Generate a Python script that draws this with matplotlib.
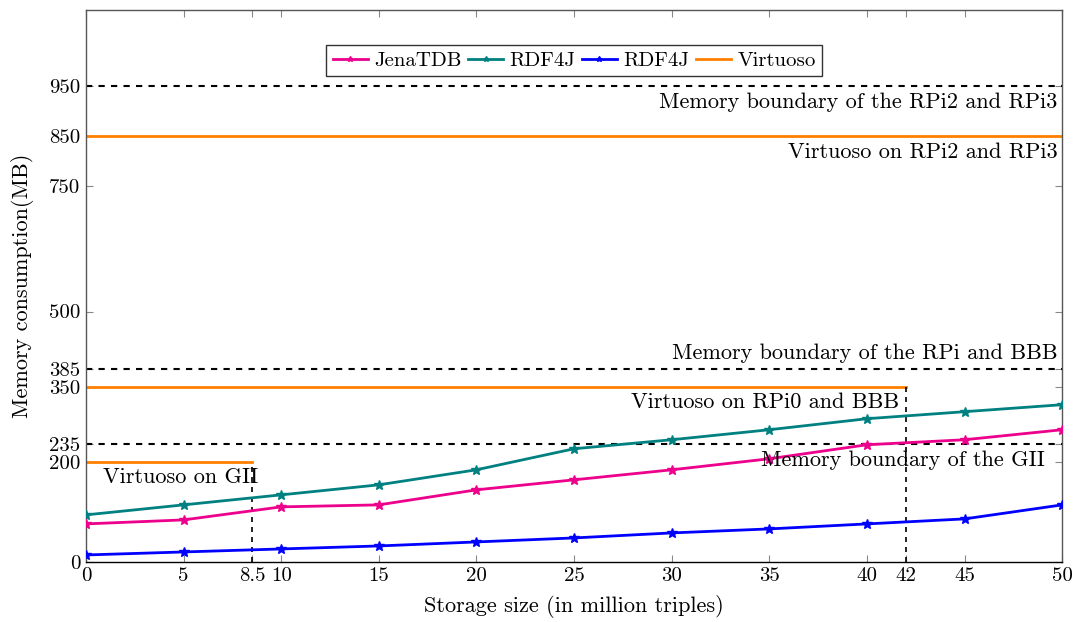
import matplotlib
matplotlib.use("Agg")
import matplotlib.pyplot as plt

plt.rcParams['font.family'] = ['cmr10', 'DejaVu Serif']
plt.rcParams['mathtext.fontset'] = 'cm'
plt.rcParams['axes.formatter.use_mathtext'] = True

x = [0, 5, 10, 15, 20, 25, 30, 35, 40, 45, 50]
jena = [76, 84, 110, 114, 144, 164, 184, 206, 234, 244, 264]
rdf4j_a = [94, 114, 134, 154, 184, 226, 244, 264, 286, 300, 314]
rdf4j_b = [14, 20, 26, 32, 40, 48, 58, 66, 76, 86, 114]

series_labels = ["JenaTDB", "RDF4J", "RDF4J", "Virtuoso"]
series_colors = ["#ec008c", "#008080", "#0000ff", "#ff7f00"]

boundaries = [950, 385, 235]
boundary_labels = ["Memory boundary of the RPi2 and RPi3",
                   "Memory boundary of the RPi and BBB",
                   "Memory boundary of the GII"]
virtuoso_levels = [850, 350, 200]
virtuoso_ends = [50, 42, 8.5]
virtuoso_labels = ["Virtuoso on RPi2 and RPi3", "Virtuoso on RPi0 and BBB", "Virtuoso on GII"]

xticks = [0, 5, 8.5, 10, 15, 20, 25, 30, 35, 40, 42, 45, 50]
yticks = [0, 200, 235, 350, 385, 500, 750, 850, 950]

fig = plt.figure(figsize=(10.74, 6.22), dpi=100)
ax = fig.add_axes([0.080, 0.0965, 0.909, 0.8875])

ax.set_xlim(0, 50)
ax.set_ylim(0, 1102)

for ys, c, lab in zip([jena, rdf4j_a, rdf4j_b], series_colors[:3], series_labels[:3]):
    ax.plot(x, ys, color=c, lw=2, marker='*', ms=7.5, label=lab, zorder=3)

# Virtuoso lines
for i, (lv, xe, lab) in enumerate(zip(virtuoso_levels, virtuoso_ends, virtuoso_labels)):
    ax.plot([0, xe], [lv, lv], color=series_colors[3], lw=2,
            label=series_labels[3] if i == 0 else None, zorder=2)

# Dashed boundaries
for b in boundaries:
    ax.axhline(b, color='black', ls=(0, (3, 3)), lw=1.5, zorder=2)

# Vertical dashed lines
ax.plot([42, 42], [0, 350], color='black', ls=(0, (3, 3)), lw=1.2, zorder=2)
ax.plot([8.5, 8.5], [0, 200], color='black', ls=(0, (3, 3)), lw=1.2, zorder=2)

fs = 16
# Annotations
ax.text(49.75, 950 - 12, boundary_labels[0], ha='right', va='top', fontsize=fs)
ax.text(49.75, 850 - 12, virtuoso_labels[0], ha='right', va='top', fontsize=fs)
ax.text(49.75, 385 + 12, boundary_labels[1], ha='right', va='bottom', fontsize=fs)
ax.text(41.65, 350 - 12, virtuoso_labels[1], ha='right', va='top', fontsize=fs)
ax.text(49.1, 235 - 12, boundary_labels[2], ha='right', va='top', fontsize=fs)
ax.text(8.85, 200 - 12, virtuoso_labels[2], ha='right', va='top', fontsize=fs)

ax.set_xticks(xticks)
ax.set_xticklabels([("%g" % t) for t in xticks], fontsize=15)
ax.set_yticks(yticks)
ax.set_yticklabels([str(t) for t in yticks], fontsize=15)
ax.tick_params(direction='in', length=5, color='#888888', top=True, right=True, pad=4)

for s in ax.spines.values():
    s.set_color('#555555')
    s.set_linewidth(1.0)
ax.spines['bottom'].set_color('black')

ax.set_xlabel("Storage size (in million triples)", fontsize=16, labelpad=7)
ax.set_ylabel("Memory consumption(MB)", fontsize=16, labelpad=11)

leg = ax.legend(loc='upper center', bbox_to_anchor=(0.5, 0.955), ncol=4, fontsize=15,
                frameon=True, fancybox=False, handlelength=1.7, handletextpad=0.3,
                columnspacing=0.3, borderpad=0.3, markerscale=0.5)
leg.get_frame().set_edgecolor('black')
leg.get_frame().set_linewidth(1.0)

fig.savefig("out.png", dpi=100)
